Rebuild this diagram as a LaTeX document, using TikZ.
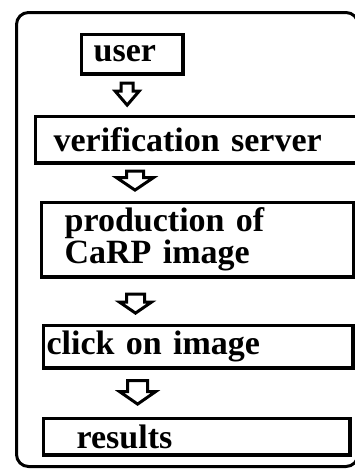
\documentclass[tikz,border=0pt]{standalone}
\usepackage{fontspec}
\setmainfont{Liberation Serif}
\usepackage{tikz}
\usetikzlibrary{calc}
\definecolor{FlowInk}{HTML}{000000}

\tikzset{
  stepbox/.style={draw=FlowInk,line width=3.3pt,rectangle,anchor=north west,
    inner ysep=0pt,align=left,font=\fontsize{34}{30}\selectfont\bfseries},
  flow/.style n args={3}{draw=FlowInk,line width=3pt,line join=miter,
    to path={let \p1=(\tikztostart), \p2=(\tikztotarget) in
      (\x1-#2,\y1) -- (\x1+#2,\y1) -- (\x1+#2,\y2+#3) -- (\x1+#1,\y2+#3)
      -- (\x1,\y2) -- (\x1-#1,\y2+#3) -- (\x1-#2,\y2+#3) -- cycle}}
}

\begin{document}
\begin{tikzpicture}[x=1pt,y=-1pt]
\path[use as bounding box] (0,0) rectangle (355,469);
\draw[FlowInk,line width=3pt,rounded corners=12pt] (16.5,12.5) rectangle (358,466.5);
\node[stepbox,minimum width=101.8,minimum height=39.8,inner xsep=12.4,text width=77] (user) at (79.6,32.6) {user};
\node[stepbox,minimum width=324,minimum height=46.8,inner xsep=18.4,text width=287.2] (ver) at (33.6,114.6) {verification server};
\node[stepbox,minimum width=312.8,minimum height=74.8,inner xsep=23.4,text width=266] (prod) at (39.6,200.6) {production of\\CaRP image};
\node[stepbox,minimum width=309.8,minimum height=42.8,inner xsep=3.4,text width=303] (click) at (41.6,323.6) {click on image};
\node[stepbox,minimum width=306.8,minimum height=36.8,inner xsep=33.4,text width=240] (res) at (41.6,416.6) {results};
\draw[flow={12}{6}{14}] ([shift={(-5,7.5)}]user.south) to ([shift={(-5,-9.5)}]user.south |- ver.north);
\draw[flow={18.5}{8.5}{12.5}] ($(ver.south west)+(101.4,6.5)$) to ($(ver.south west|-prod.north)+(101.4,-10.5)$);
\draw[flow={16}{9}{11}] ($(prod.south west)+(95.9,15.5)$) to ($(prod.south west|-click.north)+(95.9,-10.5)$);
\draw[flow={18}{10}{12.5}] ($(click.south west)+(96,10.9)$) to ($(click.south west|-res.north)+(96,-12.5)$);
\end{tikzpicture}
\end{document}
